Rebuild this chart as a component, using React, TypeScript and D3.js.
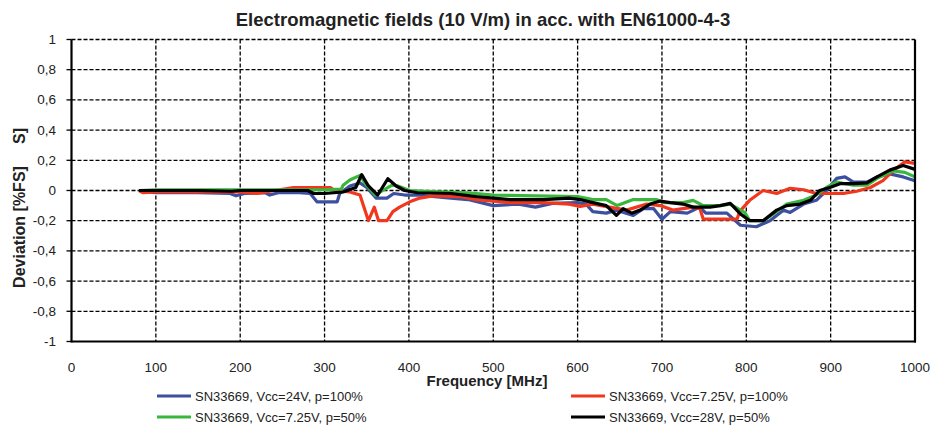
import React from 'react';
import * as d3 from 'd3';

type Pt = [number, number];

// frequency (MHz), deviation (%FS)
const blueSeries: Pt[] = [
  [80, 0], [90, -0.01], [100, -0.015], [150, -0.015], [188, -0.02], [195, -0.035], [205, -0.02],
  [230, -0.015], [235, -0.03], [245, -0.015], [270, -0.015], [283, -0.02], [291, -0.075], [315, -0.075],
  [318, -0.02], [330, 0.03], [342, 0.05], [350, 0.02], [361, -0.05], [374, -0.05], [382, -0.02],
  [395, -0.03], [410, -0.03], [440, -0.045], [470, -0.06], [500, -0.1], [530, -0.09], [550, -0.11],
  [570, -0.085], [600, -0.08], [610, -0.09], [618, -0.14], [634, -0.15], [646, -0.13], [666, -0.165],
  [678, -0.12], [690, -0.12], [700, -0.19], [710, -0.14], [730, -0.15], [745, -0.11], [752, -0.15],
  [777, -0.15], [793, -0.23], [812, -0.24], [828, -0.2], [844, -0.13], [852, -0.145], [868, -0.09],
  [883, -0.065], [895, 0], [907, 0.08], [917, 0.09], [927, 0.055], [943, 0.055], [955, 0.09],
  [970, 0.11], [986, 0.09], [1000, 0.065],
];

const redSeries: Pt[] = [
  [80, 0], [85, -0.015], [100, -0.01], [150, -0.01], [200, -0.01], [220, -0.02], [230, -0.01],
  [263, 0.02], [307, 0.02], [312, 0], [330, -0.01], [342, -0.03], [352, -0.2], [359, -0.11],
  [364, -0.2], [374, -0.2], [381, -0.14], [389, -0.11], [401, -0.075], [413, -0.05], [430, -0.035],
  [460, -0.04], [480, -0.06], [500, -0.07], [520, -0.08], [560, -0.08], [590, -0.09], [603, -0.105],
  [618, -0.09], [638, -0.11], [658, -0.13], [682, -0.09], [698, -0.1], [713, -0.13], [737, -0.11],
  [745, -0.12], [749, -0.19], [789, -0.19], [792, -0.14], [804, -0.065], [820, 0], [836, -0.02],
  [852, 0.015], [868, 0.005], [883, -0.02], [915, -0.02], [931, -0.005], [947, 0.02], [962, 0.065],
  [974, 0.13], [988, 0.19], [1000, 0.18],
];

const greenSeries: Pt[] = [
  [80, 0], [100, 0.005], [150, 0.005], [200, 0.005], [250, 0.005], [300, 0.005], [320, 0.01],
  [322, 0.035], [330, 0.07], [342, 0.1], [349, 0.04], [360, -0.03], [369, 0], [380, 0.035],
  [387, 0.03], [401, 0], [420, -0.005], [470, -0.015], [500, -0.03], [550, -0.035], [600, -0.04],
  [618, -0.06], [634, -0.06], [647, -0.1], [666, -0.06], [694, -0.06], [701, -0.08], [725, -0.08],
  [737, -0.065], [749, -0.1], [769, -0.1], [781, -0.09], [793, -0.13], [798, -0.145], [804, -0.2],
  [820, -0.2], [832, -0.155], [848, -0.09], [868, -0.065], [883, -0.03], [895, 0.02], [907, 0.055],
  [927, 0.035], [943, 0.035], [955, 0.08], [974, 0.13], [988, 0.12], [1000, 0.09],
];

const blackSeries: Pt[] = [
  [80, 0], [100, 0], [150, 0], [190, -0.005], [200, 0], [250, 0], [280, 0], [287, -0.02],
  [300, -0.02], [322, -0.01], [337, 0.02], [344, 0.105], [352, 0.03], [363, -0.03], [375, 0.078],
  [385, 0.03], [395, 0], [410, -0.015], [450, -0.02], [480, -0.04], [500, -0.05], [520, -0.06],
  [560, -0.06], [590, -0.05], [603, -0.06], [618, -0.08], [634, -0.1], [646, -0.165], [654, -0.12],
  [664, -0.15], [674, -0.13], [686, -0.09], [698, -0.07], [710, -0.08], [725, -0.09], [737, -0.11],
  [757, -0.11], [769, -0.1], [781, -0.085], [793, -0.155], [804, -0.2], [820, -0.2], [836, -0.13],
  [848, -0.1], [864, -0.09], [876, -0.065], [887, 0], [899, 0.02], [911, 0.045], [927, 0.045],
  [943, 0.05], [955, 0.09], [970, 0.135], [986, 0.165], [1000, 0.14],
];

const seriesNames = [
  'SN33669, Vcc=24V, p=100%',
  'SN33669, Vcc=7.25V, p=100%',
  'SN33669, Vcc=7.25V, p=50%',
  'SN33669, Vcc=28V, p=50%',
];
const seriesColors = ['#3d4f9f', '#f2371f', '#39b63c', '#000000'];
const allSeries = [blueSeries, redSeries, greenSeries, blackSeries];

const xTicks = [0, 100, 200, 300, 400, 500, 600, 700, 800, 900, 1000];
const yTicks = [1, 0.8, 0.6, 0.4, 0.2, 0, -0.2, -0.4, -0.6, -0.8, -1];

const FONT = '"Liberation Sans", Arial, sans-serif';

export default function App() {
  const W = 948;
  const H = 427;
  const x = d3.scaleLinear().domain([0, 1000]).range([71.5, 915]);
  const y = d3.scaleLinear().domain([-1, 1]).range([341.5, 39.5]);
  const line = d3.line<Pt>().x(d => x(d[0])).y(d => y(d[1]));
  const fmt = (v: number) => (v === 0 ? '0' : String(+v.toFixed(1)).replace('.', ','));

  const legendPos = [
    [157, 396], [571, 396], [157, 417], [571, 417],
  ];

  return (
    <svg width={W} height={H} style={{ position: 'absolute', left: 0, top: 0, background: '#fff' }}>
      <text x={483} y={26} textAnchor="middle" fontFamily={FONT} fontWeight="bold" fontSize={18.5} fill="#222">
        Electromagnetic fields (10 V/m) in acc. with EN61000-4-3
      </text>

      {/* grid */}
      {xTicks.slice(1, -1).map(t => (
        <line key={'gx' + t} x1={x(t)} x2={x(t)} y1={y(1)} y2={y(-1)} stroke="#000" strokeWidth={1.3} strokeDasharray="4,2" />
      ))}
      {yTicks.slice(0, -1).map(t => (
        <line key={'gy' + t} x1={x(0)} x2={x(1000)} y1={y(t)} y2={y(t)} stroke="#000" strokeWidth={1.3} strokeDasharray="4,2" />
      ))}

      {/* series */}
      {allSeries.map((s, i) => (
        <path key={i} d={line(s) || ''} fill="none" stroke={seriesColors[i]} strokeWidth={3.2} strokeLinejoin="round" />
      ))}

      {/* axes */}
      <line x1={x(0)} x2={x(0)} y1={y(1)} y2={y(-1) + 1} stroke="#000" strokeWidth={2.2} />
      <line x1={x(1000)} x2={x(1000)} y1={y(1)} y2={y(-1) + 1} stroke="#000" strokeWidth={2.2} />
      <line x1={x(0)} x2={x(1000) + 1} y1={y(-1)} y2={y(-1)} stroke="#000" strokeWidth={2.2} />
      {yTicks.map(t => (
        <g key={'ty' + t}>
          <line x1={x(0) - 5} x2={x(0)} y1={y(t)} y2={y(t)} stroke="#000" strokeWidth={1.3} />
          <text x={56} y={y(t) + 4.5} textAnchor="end" fontFamily={FONT} fontSize={13.5} fill="#222">
            {fmt(t)}
          </text>
        </g>
      ))}
      {xTicks.map(t => (
        <text key={'tx' + t} x={x(t)} y={372} textAnchor="middle" fontFamily={FONT} fontSize={13.5} fill="#222">
          {t}
        </text>
      ))}

      <text x={487} y={386} textAnchor="middle" fontFamily={FONT} fontWeight="bold" fontSize={15} fill="#222">
        Frequency [MHz]
      </text>
      <text transform="translate(25,227) rotate(-90)" textAnchor="middle" fontFamily={FONT} fontWeight="bold" fontSize={16} fill="#222">
        Deviation [%FS]
      </text>
      <text transform="translate(25,136) rotate(-90)" textAnchor="middle" fontFamily={FONT} fontWeight="bold" fontSize={16} fill="#222">
        S]
      </text>

      {/* legend */}
      {seriesNames.map((n, i) => (
        <g key={n}>
          <line x1={legendPos[i][0]} x2={legendPos[i][0] + 34} y1={legendPos[i][1]} y2={legendPos[i][1]} stroke={seriesColors[i]} strokeWidth={3} />
          <text x={legendPos[i][0] + 38} y={legendPos[i][1] + 4.5} fontFamily={FONT} fontSize={13} fill="#222">
            {n}
          </text>
        </g>
      ))}
    </svg>
  );
}
